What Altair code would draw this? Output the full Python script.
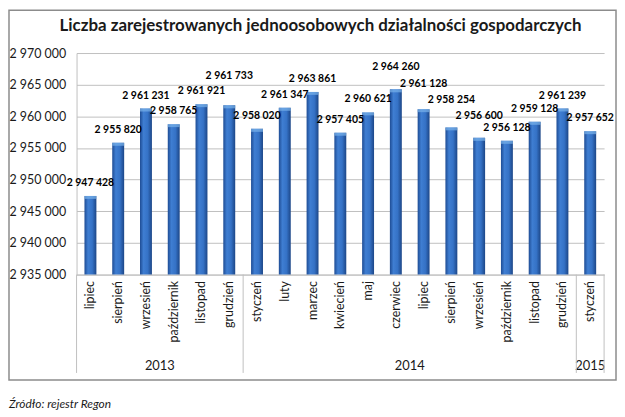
import altair as alt
import pandas as pd

title_text = "Liczba zarejestrowanych jednoosobowych działalności gospodarczych"
source_text = "Źródło: rejestr Regon"

months = ["lipiec", "sierpień", "wrzesień", "październik", "listopad", "grudzień",
          "styczeń", "luty", "marzec", "kwiecień", "maj", "czerwiec",
          "lipiec", "sierpień", "wrzesień", "październik", "listopad", "grudzień",
          "styczeń"]
year_groups = ["2013", "2014", "2015"]
group_sizes = [6, 12, 1]
values = [2947428, 2955820, 2961231, 2958765, 2961921, 2961733,
          2958020, 2961347, 2963861, 2957405, 2960621, 2964260,
          2961128, 2958254, 2956600, 2956128, 2959128, 2961239,
          2957652]
# extra lift (px) of a few data labels, as placed in the original to avoid overlaps
label_lift_px = [0, 0, 0, 0, 0, 17, 0, 0, 0, 0, 0, 9, 12, 15, 9, 0, 0, 0, 0]

y_min, y_max, y_step = 2935000, 2970000, 5000
y_ticks = list(range(y_min, y_max + 1, y_step))

W, H = 531, 223
FONT = "Lato"

years = []
for g, n in zip(year_groups, group_sizes):
    years += [g] * n
keys = [f"{m} {y}" for m, y in zip(months, years)]

df = pd.DataFrame({"key": keys, "month": months, "year": years,
                   "value": values, "lift": label_lift_px})

starts = [sum(group_sizes[:i]) for i in range(len(group_sizes))]
years_df = pd.DataFrame({"year": year_groups,
                         "mid": [s + n / 2 for s, n in zip(starts, group_sizes)]})
sep_df = pd.DataFrame({"pos": starts + [sum(group_sizes)]})
n_total = sum(group_sizes)

space_fmt = "replace(format({v}, ','), regexp(',', 'g'), ' ')"

x_scale = alt.Scale(paddingInner=0, paddingOuter=0)
x_enc = alt.X("key:N", sort=keys, scale=x_scale,
              axis=alt.Axis(title=None, labelAngle=-90,
                            labelExpr="split(datum.label, ' ')[0]",
                            ticks=False, labelPadding=6,
                            domainColor="#BFBFBF", labelFont=FONT,
                            labelFontSize=12.5, labelColor="#1a1a1a"))
y_scale = alt.Scale(domain=[y_min, y_max], zero=False, nice=False)
y_enc = alt.Y("value:Q", scale=y_scale,
              axis=alt.Axis(title=None, values=y_ticks, tickCount=len(y_ticks),
                            ticks=False, labelPadding=11, labelOverlap=False,
                            labelExpr=space_fmt.format(v="datum.value"),
                            gridColor="#C0C0C0", domainColor="#BFBFBF",
                            labelFont=FONT, labelFontSize=12.5,
                            labelColor="#1a1a1a"))

gradient = alt.Gradient(gradient="linear", x1=0, x2=1, y1=0, y2=0,
                        stops=[alt.GradientStop(color="#1E4C94", offset=0),
                               alt.GradientStop(color="#3F7ED2", offset=0.3),
                               alt.GradientStop(color="#3572C6", offset=0.65),
                               alt.GradientStop(color="#1C4687", offset=1)])

base = alt.Chart(df)

bars = base.mark_bar(size=12, color=gradient).encode(
    x=x_enc, y=y_enc, y2=alt.datum(y_min))

caps = base.mark_tick(size=12, thickness=3, color="#79B2EA", yOffset=1.5).encode(
    x=alt.X("key:N", sort=keys, scale=x_scale),
    y=alt.Y("value:Q", scale=y_scale))

px_per_unit = (y_max - y_min) / H
labels = base.transform_calculate(
    label=space_fmt.format(v="datum.value"),
    label_pos=f"datum.value + datum.lift * {px_per_unit}"
).mark_text(font=FONT, fontSize=10.5, fontWeight="bold", color="#000000",
            baseline="middle", dy=-13).encode(
    x=alt.X("key:N", sort=keys, scale=x_scale),
    y=alt.Y("label_pos:Q", scale=y_scale),
    text="label:N")

main = alt.layer(bars, caps, labels)

q_scale = alt.Scale(domain=[0, n_total], nice=False, zero=False)
year_text = alt.Chart(years_df).mark_text(font=FONT, fontSize=13,
                                          color="#1a1a1a", baseline="middle").encode(
    x=alt.X("mid:Q", scale=q_scale, axis=None),
    y=alt.value(315), text="year:N")

seps = alt.Chart(sep_df).mark_rule(color="#BFBFBF", strokeWidth=1).encode(
    x=alt.X("pos:Q", scale=q_scale, axis=None),
    y=alt.value(H), y2=alt.value(322))

frame = alt.Chart(pd.DataFrame({"t": [0]})).mark_rect(
    fill="transparent", stroke="#8C8C8C", strokeWidth=1.5).encode(
    x=alt.value(-68), x2=alt.value(543), y=alt.value(-43), y2=alt.value(329))

title = alt.Chart(pd.DataFrame({"t": [title_text]})).mark_text(
    font=FONT, fontSize=17, fontWeight="bold", align="center",
    baseline="middle", color="#1a1a1a").encode(
    x=alt.value(245.5), y=alt.value(-27), text="t:N")

source = alt.Chart(pd.DataFrame({"t": [source_text]})).mark_text(
    font=FONT, fontSize=12, fontStyle="italic", align="left",
    baseline="middle", color="#1a1a1a").encode(
    x=alt.value(-68), y=alt.value(353), text="t:N")

chart = alt.layer(frame, main, year_text, seps, title, source).resolve_scale(
    x="independent"
).properties(
    width=W, height=H,
    autosize=alt.AutoSizeParams(type="none"),
    padding={"left": 69, "top": 44, "right": 13, "bottom": 137}
).configure_view(strokeWidth=0)

chart.save("out.html", embed_options={"renderer": "svg", "actions": False})
